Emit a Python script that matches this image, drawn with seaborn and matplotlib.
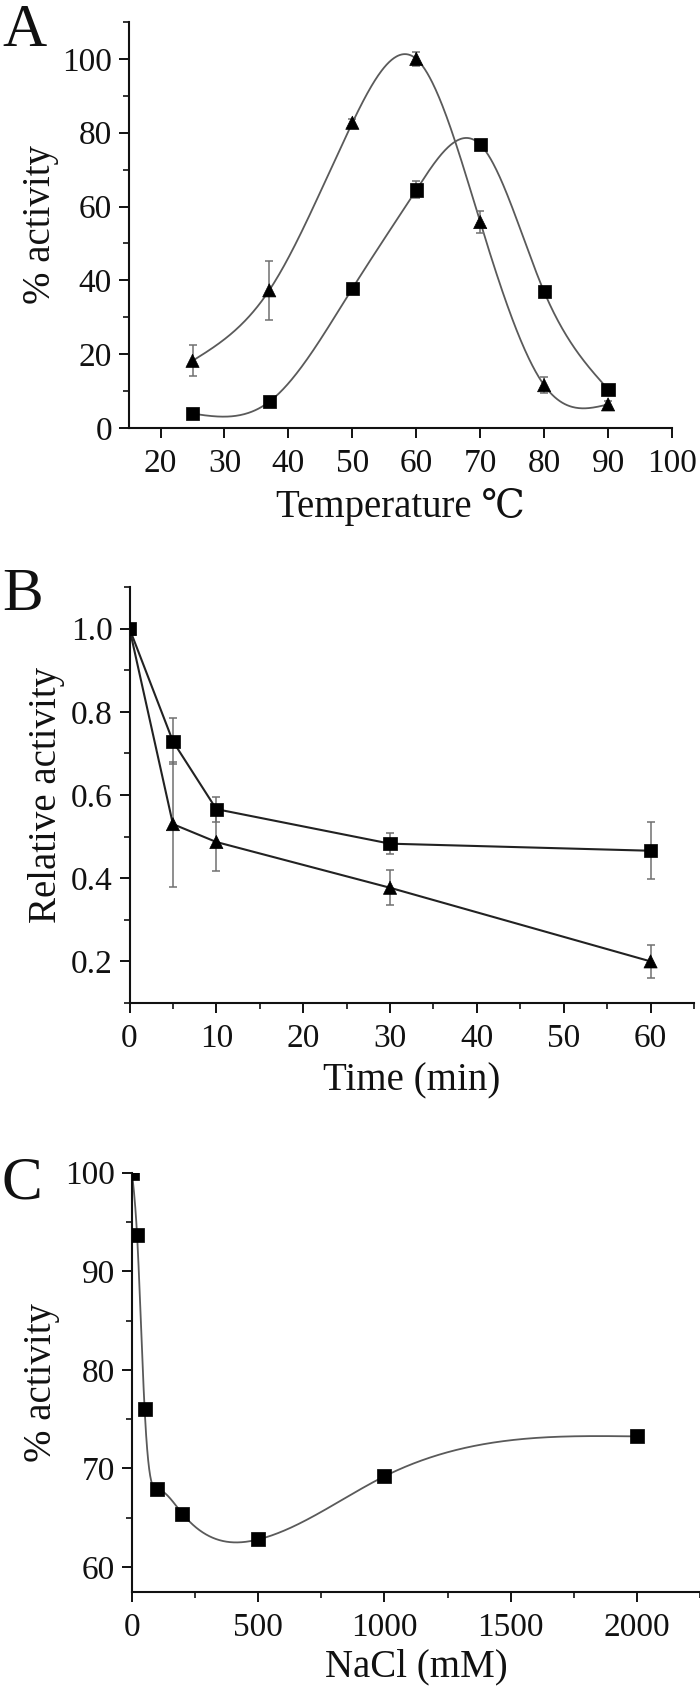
import numpy as np
import pandas as pd
import matplotlib; matplotlib.use("Agg")
import matplotlib.pyplot as plt
import seaborn as sns
from matplotlib.ticker import MultipleLocator

# ── data ──────────────────────────────────────────────────────────────────────
temp_x      = [25, 37, 50, 60, 70, 80, 90]
temp_tri    = [18.2, 37.3, 82.7, 100.0, 55.8, 11.6, 6.4]
temp_tri_err = [4.2, 8.0, 1.0, 2.0, 3.0, 2.1, 1.0]
temp_sq     = [3.9, 7.1, 37.8, 64.5, 76.8, 36.9, 10.5]
temp_sq_err = [0.5, 0.8, 0.8, 2.3, 1.0, 0.8, 0.6]

time_x      = [0, 5, 10, 30, 60]
time_sq     = [1.0, 0.729, 0.566, 0.483, 0.466]
time_sq_err = [0.0, 0.055, 0.030, 0.026, 0.068]
time_tri    = [1.0, 0.530, 0.487, 0.377, 0.200]
time_tri_err = [0.0, 0.150, 0.070, 0.042, 0.040]

nacl_x  = [0, 20, 50, 100, 200, 500, 1000, 2000]
nacl_y  = [100.0, 93.7, 76.0, 67.9, 65.4, 62.8, 69.2, 73.25]

FONT = ["Liberation Serif", "DejaVu Serif"]
CURVE = "#5a5a5a"
ERR = "#707070"
MS = 90

sns.set_theme(style="ticks")
plt.rcParams.update({
    "font.family": FONT,
    "axes.linewidth": 1.5,
    "xtick.major.width": 1.4, "ytick.major.width": 1.4,
    "xtick.minor.width": 1.2, "ytick.minor.width": 1.2,
    "xtick.major.size": 7, "ytick.major.size": 7,
    "xtick.minor.size": 4, "ytick.minor.size": 4,
    "xtick.major.pad": 8, "ytick.major.pad": 5,
    "xtick.direction": "out", "ytick.direction": "out",
    "xtick.labelsize": 24, "ytick.labelsize": 24,
    "axes.labelsize": 28,
    "axes.edgecolor": "#111111",
    "xtick.color": "#111111", "ytick.color": "#111111",
    "text.color": "#111111", "axes.labelcolor": "#111111",
})


def natural_spline(x, y, n=500):
    x = np.asarray(x, float); y = np.asarray(y, float)
    h = np.diff(x)
    m = len(x)
    A = np.zeros((m, m)); r = np.zeros(m)
    A[0, 0] = A[-1, -1] = 1
    for i in range(1, m - 1):
        A[i, i - 1] = h[i - 1]; A[i, i] = 2 * (h[i - 1] + h[i]); A[i, i + 1] = h[i]
        r[i] = 3 * ((y[i + 1] - y[i]) / h[i] - (y[i] - y[i - 1]) / h[i - 1])
    c = np.linalg.solve(A, r)
    b = (y[1:] - y[:-1]) / h - h * (2 * c[:-1] + c[1:]) / 3
    d = (c[1:] - c[:-1]) / (3 * h)
    xs = np.linspace(x[0], x[-1], n)
    idx = np.clip(np.searchsorted(x, xs) - 1, 0, m - 2)
    dx = xs - x[idx]
    return xs, y[idx] + b[idx] * dx + c[idx] * dx ** 2 + d[idx] * dx ** 3


fig = plt.figure(figsize=(7.0, 16.89), dpi=100)
W, H = 700, 1689


def add_ax(l, r, t, b):
    return fig.add_axes([l / W, 1 - b / H, (r - l) / W, (b - t) / H])


# ── A: temperature ───────────────────────────────────────────────────────────
axA = add_ax(128.6, 672, 22, 428)
for ys, err in [(temp_tri, temp_tri_err), (temp_sq, temp_sq_err)]:
    xs, ss = natural_spline(temp_x, ys)
    axA.plot(xs, ss, color=CURVE, lw=1.3, zorder=2)
    axA.errorbar(temp_x, ys, yerr=err, fmt="none", ecolor=ERR, elinewidth=1.1,
                 capsize=3, capthick=1.1, zorder=3)
dfA = pd.DataFrame({"x": temp_x * 2, "y": temp_tri + temp_sq,
                    "s": ["tri"] * len(temp_x) + ["sq"] * len(temp_x)})
sns.scatterplot(data=dfA, x="x", y="y", style="s", markers={"tri": "^", "sq": "s"},
                color="black", s=MS, edgecolor="black", linewidth=0.5,
                legend=False, ax=axA, zorder=4)
axA.set_xlim(15, 100)
axA.set_ylim(0, 110)
axA.set_xticks(range(20, 101, 10))
axA.set_yticks([0, 20, 40, 60, 80, 100])
axA.yaxis.set_minor_locator(MultipleLocator(10))
axA.set_xlabel("Temperature \u2103", labelpad=6)
axA.set_ylabel("% activity", labelpad=2)
sns.despine(ax=axA)

# ── B: time ──────────────────────────────────────────────────────────────────
axB = add_ax(129.5, 694, 587, 1003)
for ys, err in [(time_sq, time_sq_err), (time_tri, time_tri_err)]:
    axB.errorbar(time_x, ys, yerr=err, fmt="none", ecolor=ERR, elinewidth=1.1,
                 capsize=3, capthick=1.1, zorder=3)
dfB = pd.DataFrame({"x": time_x * 2, "y": time_sq + time_tri,
                    "s": ["sq"] * len(time_x) + ["tri"] * len(time_x)})
sns.lineplot(data=dfB, x="x", y="y", units="s", estimator=None, color="#222222",
             lw=1.5, ax=axB, zorder=2)
sns.scatterplot(data=dfB, x="x", y="y", style="s", markers={"tri": "^", "sq": "s"},
                color="black", s=MS, edgecolor="black", linewidth=0.5,
                legend=False, ax=axB, zorder=4)
axB.set_xlim(0, 65)
axB.set_ylim(0.1, 1.1)
axB.set_xticks(range(0, 61, 10))
axB.xaxis.set_minor_locator(MultipleLocator(5))
axB.set_yticks([0.2, 0.4, 0.6, 0.8, 1.0])
axB.yaxis.set_minor_locator(MultipleLocator(0.1))
axB.set_xlabel("Time (min)", labelpad=6)
axB.set_ylabel("Relative activity", labelpad=4)
sns.despine(ax=axB)

# ── C: NaCl ──────────────────────────────────────────────────────────────────
axC = add_ax(132, 700, 1172.6, 1591.7)
xs, ss = natural_spline(nacl_x, nacl_y, n=2000)
axC.plot(xs, ss, color=CURVE, lw=1.3, zorder=2)
sns.scatterplot(x=nacl_x, y=nacl_y, marker="s", color="black", s=MS,
                edgecolor="black", linewidth=0.5, ax=axC, zorder=4)
axC.set_xlim(0, 2250)
axC.set_ylim(57.5, 100)
axC.set_xticks([0, 500, 1000, 1500, 2000])
axC.xaxis.set_minor_locator(MultipleLocator(250))
axC.set_yticks([60, 70, 80, 90, 100])
axC.yaxis.set_minor_locator(MultipleLocator(5))
axC.set_xlabel("NaCl (mM)", labelpad=4)
axC.set_ylabel("% activity", labelpad=4)
sns.despine(ax=axC)

for lab, y in [("A", 4), ("B", 567), ("C", 1156)]:
    fig.text(2 / W, 1 - y / H, lab, fontsize=44, va="top", ha="left")

fig.savefig("out.png", dpi=100, facecolor="white")
